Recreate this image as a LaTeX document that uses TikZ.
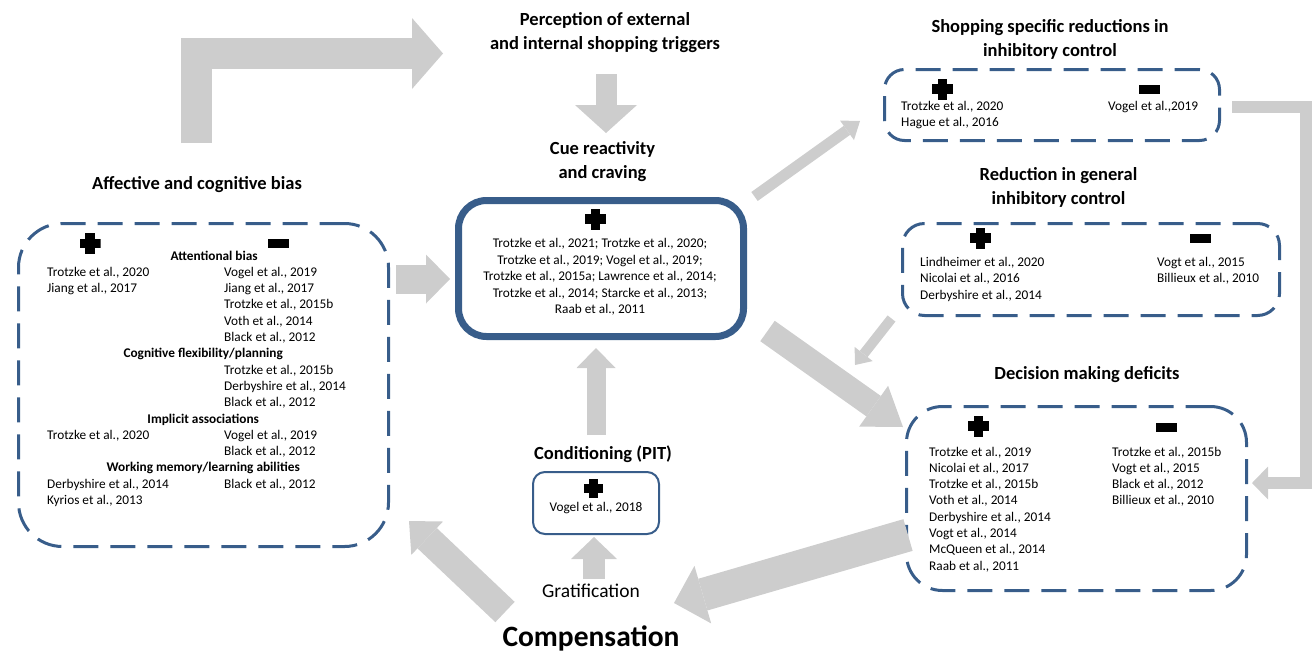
\documentclass[tikz,border=0pt]{standalone}
\usepackage{fontspec}
\setmainfont{Carlito}
\usetikzlibrary{arrows.meta}

\definecolor{boxblue}{RGB}{56,93,138}
\definecolor{arrowgray}{RGB}{205,205,205}

\begin{document}
\begin{tikzpicture}[
        x=1pt, y=-1pt,
        heading/.style={font=\fontsize{18.5}{24}\selectfont\bfseries, align=center, inner sep=0pt, anchor=base},
        refs/.style={font=\fontsize{13.3}{16.3}\selectfont, inner sep=0pt, anchor=base west},
        dashbox/.style={draw=boxblue, line width=3pt, dash pattern=on 25pt off 12pt, 
                        rounded corners=#1, outer sep=0pt},
        mainbox/.style={draw=boxblue, line width=7pt, rounded corners=28pt, outer sep=0pt},
        smallbox/.style={draw=boxblue, line width=2pt, rounded corners=12pt, outer sep=0pt},
        plusmark/.style={minimum size=21pt, inner sep=0pt, path picture={
                        \fill[black] ([yshift=-4.7pt]path picture bounding box.west) rectangle ([yshift=4.7pt]path picture bounding box.east);
                        \fill[black] ([xshift=-4.7pt]path picture bounding box.south) rectangle ([xshift=4.7pt]path picture bounding box.north);}},
        minusmark/.style={fill=black, minimum width=21pt, minimum height=9pt, inner sep=0pt},
        bigarrow/.style n args={3}{draw=arrowgray, line width=#1, -{Triangle[width=#2, length=#3, line width=0pt]}}
    ]
        \useasboundingbox (0,0) rectangle (1316,651);
        
        \node[dashbox=44pt, minimum width=370pt, minimum height=323pt] (biasbox) at (203.5,385) {};
        \node[mainbox, minimum width=285pt, minimum height=136pt] (cuebox) at (601,268.5) {};
        \node[dashbox=20pt, minimum width=335pt, minimum height=71pt] (shopbox) at (1052,105) {};
        \node[dashbox=22pt, minimum width=377pt, minimum height=92pt] (genbox) at (1091,269.5) {};
        \node[dashbox=36pt, minimum width=340pt, minimum height=184pt] (decbox) at (1076.5,498.5) {};
        \node[smallbox, minimum width=126pt, minimum height=62pt] (condbox) at (596,503) {};
        
        % base of a two-line heading = its last line
        \node[heading] (trigger) at (605,49) {Perception of external\\and internal shopping triggers};
        \node[heading] (cuetitle) at (602.5,178) {Cue reactivity\\and craving};
        \node[heading] (biastitle) at (197,189) {Affective and cognitive bias};
        \node[heading] (shoptitle) at (1050,56) {Shopping specific reductions in\\inhibitory control};
        \node[heading] (gentitle) at (1058.5,204) {Reduction in general\\inhibitory control};
        \node[heading] (dectitle) at (1087,379) {Decision making deficits};
        \node[heading] (condtitle) at (603,459) {Conditioning (PIT)};
        \node[heading, font=\fontsize{19.5}{24}\selectfont] (grat) at (591,597.5) {Gratification};
        \node[heading, font=\fontsize{29.5}{34}\selectfont\bfseries] (comp) at (591,646) {Compensation};
        
        \node[plusmark] (biasplus) at (90,243.5) {};
        \node[minusmark] (biasminus) at (278,243.5) {};
        \node[plusmark] (cueplus) at (595.7,219) {};
        \node[plusmark] (shopplus) at (942.5,89) {};
        \node[minusmark] (shopminus) at (1149.7,89) {};
        \node[plusmark] (genplus) at (980.5,238) {};
        \node[minusmark] (genminus) at (1200.5,238) {};
        \node[plusmark] (decplus) at (978.5,426) {};
        \node[minusmark] (decminus) at (1166.5,427) {};
        \node[plusmark, minimum size=19pt] (condplus) at (593.5,488.5) {};
        
        \node[refs] (biasrefs) at (47,260) {\begin{tabular}[t]{@{}p{177pt}@{}p{135pt}@{}}
            \multicolumn{2}{c}{\hspace{22pt}\bfseries Attentional bias}\\
            Trotzke et al., 2020 & Vogel et al., 2019\\
            Jiang et al., 2017 & Jiang et al., 2017\\
            & Trotzke et al., 2015b\\
            & Voth et al., 2014\\
            & Black et al., 2012\\
            \multicolumn{2}{c}{\bfseries Cognitive flexibility/planning}\\
            & Trotzke et al., 2015b\\
            & Derbyshire et al., 2014\\
            & Black et al., 2012\\
            \multicolumn{2}{c}{\bfseries Implicit associations}\\
            Trotzke et al., 2020 & Vogel et al., 2019\\
            & Black et al., 2012\\
            \multicolumn{2}{c}{\bfseries Working memory/learning abilities}\\
            Derbyshire et al., 2014 & Black et al., 2012\\
            Kyrios et al., 2013 &
        \end{tabular}};
        \node[refs, anchor=base, align=center, font=\fontsize{13.3}{16.5}\selectfont] (cuerefs) at (600,313.5) {Trotzke et al., 2021; Trotzke et al., 2020;\\Trotzke et al., 2019; Vogel et al., 2019;\\Trotzke et al., 2015a; Lawrence et al., 2014;\\Trotzke et al., 2014; Starcke et al., 2013;\\Raab et al., 2011};
        \node[refs] (shoprefs) at (901,110.5) {\begin{tabular}[t]{@{}p{207pt}@{}l@{}}
            Trotzke et al., 2020 & Vogel et al.,2019\\
            Hague et al., 2016 &
        \end{tabular}};
        \node[refs] (genrefs) at (920,266.5) {\begin{tabular}[t]{@{}p{237pt}@{}l@{}}
            Lindheimer et al., 2020 & Vogt et al., 2015\\
            Nicolai et al., 2016 & Billieux et al., 2010\\
            Derbyshire et al., 2014 &
        \end{tabular}};
        \node[refs] (decrefs) at (929,456) {\begin{tabular}[t]{@{}p{183pt}@{}l@{}}
            Trotzke et al., 2019 & Trotzke et al., 2015b\\
            Nicolai et al., 2017 & Vogt et al., 2015\\
            Trotzke et al., 2015b & Black et al., 2012\\
            Voth et al., 2014 & Billieux et al., 2010\\
            Derbyshire et al., 2014 &\\
            Vogt et al., 2014 &\\
            McQueen et al., 2014 &\\
            Raab et al., 2011 &
        \end{tabular}};
        \node[refs, anchor=base] (condrefs) at (596,511.5) {Vogel et al., 2018};
        
        \draw[bigarrow={21pt}{62pt}{28pt}] ([shift={(1,25)}]trigger.base) -- ([shift={(3.5,-45)}]cuetitle.base);
        \draw[bigarrow={29pt}{49pt}{24pt}] ([shift={(7.5,-106)}]biasbox.east) -- ([shift={(-8.5,10.5)}]cuebox.west);
        \draw[bigarrow={19pt}{39pt}{20pt}] ([shift={(-7,-24)}]condtitle.base) -- ([shift={(-5,11.5)}]cuebox.south);
        \draw[bigarrow={22pt}{46pt}{22pt}] ([shift={(3,-18.5)}]grat.base) -- ([shift={(-2,3)}]condbox.south);
        \draw[bigarrow={28pt}{46pt}{25pt}] ([shift={(-86,-34)}]comp.base) -- ([shift={(20.5,-25.5)}]biasbox.south east);
        \draw[bigarrow={33pt}{60pt}{30pt}] ([shift={(1.5,36.5)}]decbox.west) -- ([shift={(83,-43)}]comp.base);
        \draw[bigarrow={25pt}{50pt}{36pt}] ([shift={(24,-5.5)}]cuebox.south east) -- ([shift={(-3.5,20.5)}]decbox.north west);
        \draw[bigarrow={11pt}{24pt}{16pt}] ([shift={(11,-4)}]cuebox.north east) -- ([shift={(-24.5,16)}]shopbox.west);
        \draw[bigarrow={10pt}{23pt}{14pt}] ([shift={(-11,3)}]genbox.south west) -- ([shift={(-51.5,-41.5)}]decbox.north west);
        
        \draw[bigarrow={31pt}{71pt}{31pt}] ([shift={(-0.5,-46)}]biastitle.base) |- ([shift={(-162,4.5)}]trigger.base);
        \draw[bigarrow={12.5pt}{33pt}{16pt}] ([shift={(12.5,2)}]shopbox.east) -- ++(74,0) |- ([shift={(5.5,-15.5)}]decbox.east);
    \end{tikzpicture}
\end{document}
